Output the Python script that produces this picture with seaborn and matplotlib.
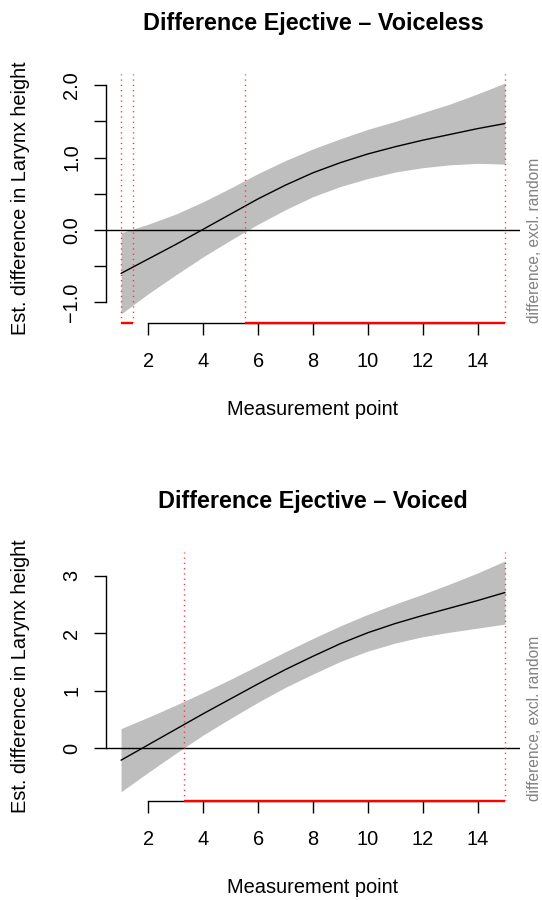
import numpy as np
import pandas as pd
import seaborn as sns
import matplotlib
matplotlib.use("Agg")
import matplotlib.pyplot as plt

x_points = [1, 2, 3, 4, 5, 6, 7, 8, 9, 10, 11, 12, 13, 14, 15]

est_voiceless = [-0.60, -0.40, -0.20, 0.01, 0.22, 0.43, 0.62, 0.79, 0.93, 1.05,
                 1.15, 1.24, 1.32, 1.40, 1.47]
ci_voiceless = [0.56, 0.48, 0.42, 0.38, 0.36, 0.35, 0.34, 0.33, 0.33, 0.34,
                0.35, 0.38, 0.42, 0.48, 0.56]
sig_voiceless = [(1.0, 1.43), (5.52, 15.0)]

est_voiced = [-0.21, 0.06, 0.33, 0.60, 0.86, 1.12, 1.37, 1.60, 1.82, 2.01,
              2.17, 2.31, 2.44, 2.57, 2.71]
ci_voiced = [0.55, 0.48, 0.42, 0.37, 0.34, 0.32, 0.31, 0.31, 0.31, 0.32,
             0.34, 0.37, 0.42, 0.48, 0.55]
sig_voiced = [(3.3, 15.0)]

titles = ["Difference Ejective \u2013 Voiceless", "Difference Ejective \u2013 Voiced"]

xticks = [2, 4, 6, 8, 10, 12, 14]
yticks_voiceless = [-1.0, -0.5, 0.0, 0.5, 1.0, 1.5, 2.0]
ylabels_voiceless = ["\u22121.0", "", "0.0", "", "1.0", "", "2.0"]
yticks_voiced = [0, 1, 2, 3]
ylabels_voiced = ["0", "1", "2", "3"]

sns.set_style("ticks")
plt.rcParams['font.family'] = ['Liberation Sans', 'DejaVu Sans']
plt.rcParams['text.color'] = 'black'
plt.rcParams['axes.labelcolor'] = 'black'
plt.rcParams['xtick.color'] = 'black'
plt.rcParams['ytick.color'] = 'black'
plt.rcParams['axes.edgecolor'] = 'black'

BASE = 14.4  # points, ~20 px at 100 dpi


def plot_panel(ax, est, ci, sig, title, yticks, ylabels):
    df = pd.DataFrame({'point': x_points, 'est': est, 'ci': ci})
    df['lo'] = df['est'] - df['ci']
    df['hi'] = df['est'] + df['ci']

    # R style 4% padding around the data range
    xpad = 0.04 * (df['point'].max() - df['point'].min())
    ypad = 0.04 * (df['hi'].max() - df['lo'].min())
    xlim = (df['point'].min() - xpad, df['point'].max() + xpad)
    ylim = (df['lo'].min() - ypad, df['hi'].max() + ypad)

    ax.fill_between(df['point'], df['lo'], df['hi'], color='#BEBEBE', lw=0)
    sns.lineplot(data=df, x='point', y='est', color='black', lw=1.0, ax=ax)
    ax.axhline(0, color='black', lw=1.0)

    for a, b in sig:
        for v in (a, b):
            ax.axvline(v, color='#FF3030', ls=(0, (0.9, 2.9)), lw=1.0, zorder=4)
        ax.hlines(ylim[0], a, b, color='red', lw=1.7, clip_on=False, zorder=5)

    ax.set_xlim(xlim)
    ax.set_ylim(ylim)

    sns.despine(ax=ax)
    ax.spines['bottom'].set_bounds(xticks[0], xticks[-1])
    ax.spines['left'].set_bounds(yticks[0], yticks[-1])
    for s in ['bottom', 'left']:
        ax.spines[s].set_linewidth(1.0)

    ax.set_xticks(xticks)
    ax.set_xticklabels([str(t) for t in xticks])
    ax.set_yticks(yticks)
    ax.set_yticklabels(ylabels, rotation=90, va='center')
    ax.tick_params(axis='both', length=8.6, width=1.0, labelsize=BASE, color='black')
    ax.tick_params(axis='x', pad=12)
    ax.tick_params(axis='y', pad=9)

    ax.set_title(title, fontsize=16.8, fontweight='bold', y=1.2, pad=0, va='center')
    ax.set_xlabel('Measurement point', fontsize=BASE, va='center')
    ax.xaxis.set_label_coords(0.5, -0.345)
    ax.set_ylabel('Est. difference in Larynx height', fontsize=BASE, va='center')
    ax.yaxis.set_label_coords(-0.205, 0.5)

    ax.text(1.035, 0.0, 'difference, excl. random', transform=ax.transAxes,
            rotation=90, ha='center', va='bottom', fontsize=11.2, color='#808080')


fig = plt.figure(figsize=(5.42, 9.0), dpi=100)
ax1 = fig.add_axes([0.195, 0.641, 0.765, 0.277])
ax2 = fig.add_axes([0.195, 0.110, 0.765, 0.277])

plot_panel(ax1, est_voiceless, ci_voiceless, sig_voiceless, titles[0],
           yticks_voiceless, ylabels_voiceless)
plot_panel(ax2, est_voiced, ci_voiced, sig_voiced, titles[1],
           yticks_voiced, ylabels_voiced)

fig.savefig('out.png', dpi=100)
plt.close(fig)
